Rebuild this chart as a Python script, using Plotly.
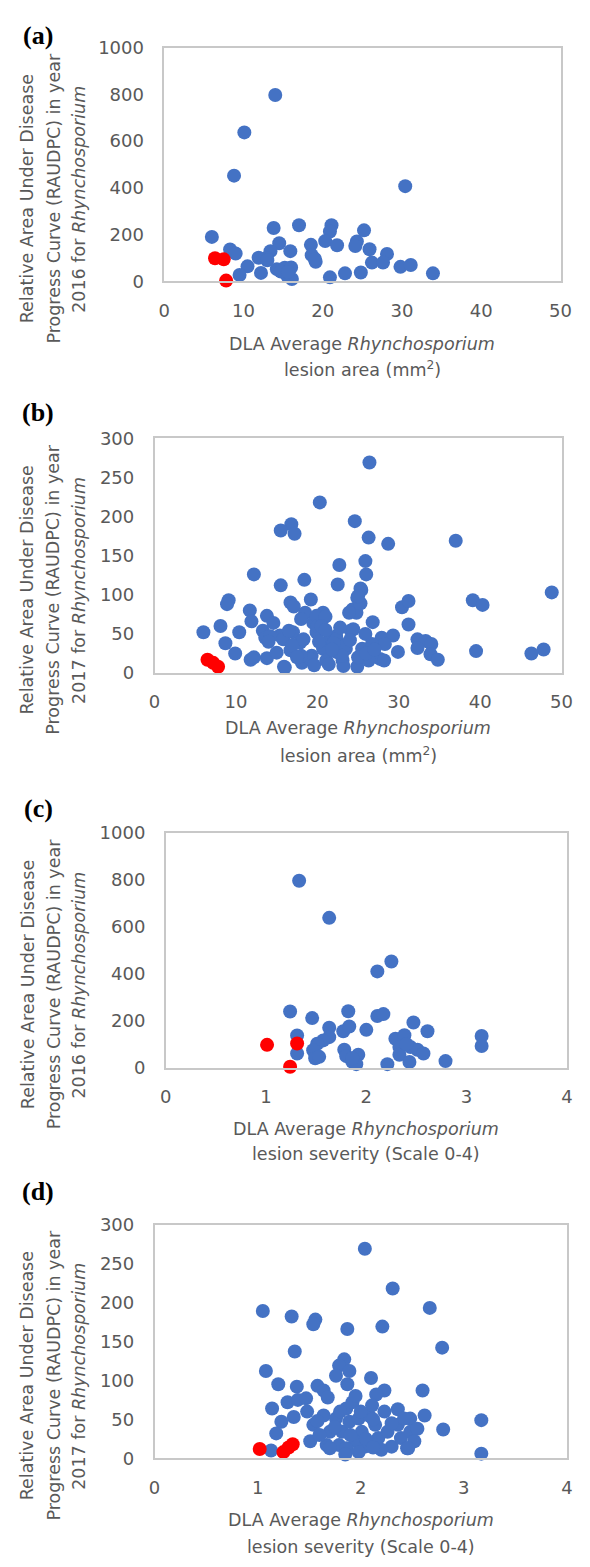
import plotly.graph_objects as go

W, H = 590, 1567

# ---------------- data ----------------
a_blue_x = [14.0, 10.1, 8.8, 30.4, 6.0, 13.8, 17.0, 21.1, 20.9, 20.3, 21.8, 25.2, 24.3, 24.1, 18.5, 18.6, 19.1,
            14.5, 15.9, 13.4, 12.9, 11.9, 8.3, 9.0, 10.5, 9.5, 12.2, 14.2, 15.2, 16.0, 15.5, 16.1, 20.9, 22.8,
            24.8, 25.9, 26.2, 28.1, 27.6, 29.8, 31.1, 33.9, 13.0, 14.7, 15.6, 19.0]
a_blue_y = [797, 637, 452, 407, 190, 228, 240, 240, 213, 172, 154, 218, 170, 151, 156, 112, 84,
            163, 129, 129, 100, 101, 136, 119, 64, 27, 36, 52, 58, 59, 24, 10, 17, 34,
            38, 137, 80, 117, 80, 62, 70, 34, 90, 42, 40, 96]
a_red_x = [6.4, 7.5, 7.8]
a_red_y = [99, 94, 3]

b_blue_x = [26.4, 20.3, 24.6, 16.8, 15.5, 17.2, 26.3, 28.7, 37.0, 22.7, 25.9, 26.0, 12.2, 18.4, 15.5, 22.5,
            25.4, 48.8, 19.2, 9.1, 8.9, 39.1, 40.3, 30.4, 31.2, 31.2, 16.7, 17.1, 11.7, 11.9, 13.8, 8.1,
            6.0, 10.4, 8.7, 9.9, 11.8, 13.8, 13.3, 13.6, 14.6, 15.4, 15.0, 15.9, 17.0, 17.9, 18.5, 19.5,
            19.3, 18.1, 16.7, 18.0, 24.3, 24.9, 25.3, 20.7, 19.9, 26.8, 24.1, 25.9, 27.9, 29.3, 29.9,
            32.3, 33.3, 34.0, 32.3, 33.9, 34.8, 18.3, 19.9, 21.5, 22.3, 20.7, 22.3, 23.5, 25.5, 26.7,
            28.3, 27.7, 19.1, 21.1, 23.1, 24.9, 26.3, 18.0, 39.5, 46.3, 47.8, 16.0, 19.6, 21.4, 23.2,
            14.2, 15.8, 16.5, 16.9, 20.0, 21.0, 20.5, 22.3, 23.4, 24.4, 24.8, 25.3, 25.0, 23.9, 21.0,
            22.0, 23.0, 24.0, 25.0, 26.0, 27.0, 28.2, 21.8, 22.8, 20.2, 17.5, 12.2, 14.0]
b_blue_y = [269, 218, 194, 190, 182, 178, 173, 165, 169, 138, 143, 126, 126, 119, 112, 113,
            106, 103, 94, 93, 88, 93, 87, 84, 92, 62, 90, 85, 80, 66, 73, 60,
            52, 52, 38, 25, 17, 19, 54, 45, 64, 48, 26, 8, 52, 39, 77, 64,
            22, 13, 29, 69, 81, 96, 108, 77, 73, 65, 54, 50, 45, 48, 27,
            43, 41, 37, 32, 24, 17, 43, 52, 43, 47, 31, 27, 31, 31, 37,
            37, 18, 18, 16, 16, 8, 16, 22, 28, 25, 30, 7, 10, 11, 9,
            47, 43, 54, 35, 60, 72, 60, 43, 35, 56, 77, 89, 98, 77, 55,
            38, 22, 42, 20, 25, 30, 16, 30, 58, 40, 20, 20, 40]
b_red_x = [6.5, 7.2, 7.8]
b_red_y = [17, 13, 8]

c_blue_x = [1.33, 1.63, 2.25, 2.11, 1.24, 1.46, 1.82, 2.11, 2.17, 2.47, 2.61, 2.00, 1.63, 1.77, 1.83, 1.63,
            1.57, 1.51, 1.31, 1.31, 1.47, 1.49, 1.53, 1.78, 1.80, 1.86, 1.92, 1.90, 2.21, 2.29, 2.38,
            2.33, 2.44, 2.33, 2.43, 2.51, 2.57, 2.79, 3.15, 3.15, 1.86, 2.40]
c_blue_y = [796, 638, 452, 410, 239, 211, 240, 220, 228, 192, 155, 161, 170, 155, 175, 130,
            116, 102, 137, 60, 74, 40, 46, 76, 49, 25, 55, 15, 15, 123, 138,
            88, 88, 55, 24, 76, 60, 28, 135, 92, 40, 100]
c_red_x = [1.01, 1.31, 1.24]
c_red_y = [97, 103, 4]

d_blue_x = [2.04, 2.31, 2.67, 1.05, 1.33, 1.56, 1.54, 1.87, 2.21, 2.79, 1.36, 1.08, 1.84, 1.79, 1.76, 1.89,
            1.87, 2.10, 1.20, 1.38, 1.58, 1.64, 1.68, 2.60, 2.23, 2.15, 2.36, 1.14, 1.29, 1.39, 1.47,
            3.17, 2.80, 3.17, 2.62, 2.48, 1.35, 1.23, 1.18, 1.13,
            1.48, 1.54, 1.51, 1.64, 1.70, 1.67, 1.76, 1.82, 1.79, 1.86, 1.89, 1.92, 1.95, 1.98, 2.01,
            1.95, 2.08, 2.11, 2.14, 2.17, 2.23, 2.26, 2.30, 2.36, 2.39, 2.42, 2.48, 2.45, 2.55, 2.52,
            1.86, 2.04, 2.20, 1.70, 2.46, 1.60, 1.75, 1.90, 2.05, 1.58, 2.30, 2.00, 1.80, 2.12, 1.85,
            1.98, 2.12]
d_blue_y = [269, 218, 193, 189, 182, 178, 172, 166, 169, 142, 137, 112, 127, 119, 106, 112,
            95, 103, 95, 92, 93, 87, 78, 87, 87, 82, 63, 64, 72, 75, 77,
            49, 37, 6, 55, 51, 53, 47, 32, 10,
            60, 43, 22, 55, 34, 17, 51, 34, 17, 64, 47, 72, 80, 51, 34,
            22, 55, 68, 43, 26, 60, 34, 15, 43, 26, 51, 34, 13, 38, 22,
            13, 15, 11, 13, 13, 30, 40, 30, 25, 48, 45, 60, 60, 50, 5,
            8, 14]
d_red_x = [1.02, 1.25, 1.30, 1.34]
d_red_y = [12, 8, 14, 18]

panels = [
    dict(bx=a_blue_x, by=a_blue_y, rx=a_red_x, ry=a_red_y, xr=[0, 50], xd=10, yr=[0, 1000], yd=200,
         box=(163, 571, 37, 274), year="2016", xl2="lesion area (mm<sup>2</sup>)", tag="(a)",
         tagy=25, xt=(64, 89)),
    dict(bx=b_blue_x, by=b_blue_y, rx=b_red_x, ry=b_red_y, xr=[0, 50], xd=10, yr=[0, 300], yd=50,
         box=(153, 572, 433, 671), year="2017", xl2="lesion area (mm<sup>2</sup>)", tag="(b)",
         tagy=407, xt=(56, 83)),
    dict(bx=c_blue_x, by=c_blue_y, rx=c_red_x, ry=c_red_y, xr=[0, 4], xd=1, yr=[0, 1000], yd=200,
         box=(164.5, 577.5, 833, 1071), year="2016", xl2="lesion severity (Scale 0-4)", tag="(c)",
         tagy=808, xt=(62, 88)),
    dict(bx=d_blue_x, by=d_blue_y, rx=d_red_x, ry=d_red_y, xr=[0, 4], xd=1, yr=[0, 300], yd=50,
         box=(153, 577.5, 1230, 1467), year="2017", xl2="lesion severity (Scale 0-4)", tag="(d)",
         tagy=1197, xt=(63, 90)),
]

BLUE = "#4472C4"
RED = "#FF0000"
GRAY = "#595959"
FONT = "DejaVu Sans"

fig = go.Figure()
annotations = []


def px(x):
    return x / W


def py(y):
    return 1 - y / H


for i, p in enumerate(panels, start=1):
    xa = "x" if i == 1 else f"x{i}"
    ya = "y" if i == 1 else f"y{i}"
    for xs, ys, col in [(p["bx"], p["by"], BLUE), (p["rx"], p["ry"], RED)]:
        fig.add_trace(go.Scatter(x=xs, y=ys, mode="markers", xaxis=xa, yaxis=ya, cliponaxis=False,
                                 marker=dict(size=14, color=col, line=dict(width=0)),
                                 showlegend=False, hoverinfo="x+y"))
    l, r, t, b = p["box"]
    axis_common = dict(showgrid=False, zeroline=False, showline=True, mirror=True,
                       linecolor="#C8C8C8", linewidth=1.5, ticks="",
                       tickfont=dict(family=FONT, size=18, color=GRAY), fixedrange=True)
    fig.update_layout({
        ("xaxis" if i == 1 else f"xaxis{i}"): dict(domain=[px(l), px(r)], range=p["xr"], dtick=p["xd"],
                                                    tick0=0, anchor=ya, ticklabelstandoff=12, **axis_common),
        ("yaxis" if i == 1 else f"yaxis{i}"): dict(domain=[py(b), py(t)], range=p["yr"], dtick=p["yd"],
                                                    tick0=0, anchor=xa, ticklabelstandoff=15, **axis_common),
    })
    cx = (l + r) / 2
    ycen = (t + b) / 2 + 35
    ylines = ["Relative Area Under Disease", "Progress Curve (RAUDPC) in year",
              f"{p['year']} for <i>Rhynchosporium</i>"]
    for xpos, txt in zip([22, 49, 75], ylines):
        annotations.append(dict(x=px(xpos), y=py(ycen), xref="paper", yref="paper", text=txt,
                                textangle=-90, showarrow=False, xanchor="center", yanchor="middle",
                                font=dict(family=FONT, size=17.5, color=GRAY)))
    for dy, txt in zip(p["xt"], ["DLA Average <i>Rhynchosporium</i>", p["xl2"]]):
        annotations.append(dict(x=px(cx), y=py(b + dy), xref="paper", yref="paper", text=txt,
                                showarrow=False, xanchor="center", yanchor="middle",
                                font=dict(family=FONT, size=17.5, color=GRAY)))
    annotations.append(dict(x=px(33), y=py(p["tagy"]), xref="paper", yref="paper",
                            text=f"<b>{p['tag']}</b>", showarrow=False, xanchor="center", yanchor="middle",
                            font=dict(family="Liberation Serif", size=26, color="black")))

fig.update_layout(width=W, height=H, autosize=False, margin=dict(l=0, r=0, t=0, b=0),
                  paper_bgcolor="white", plot_bgcolor="white", annotations=annotations)

fig.write_html("out.html")
